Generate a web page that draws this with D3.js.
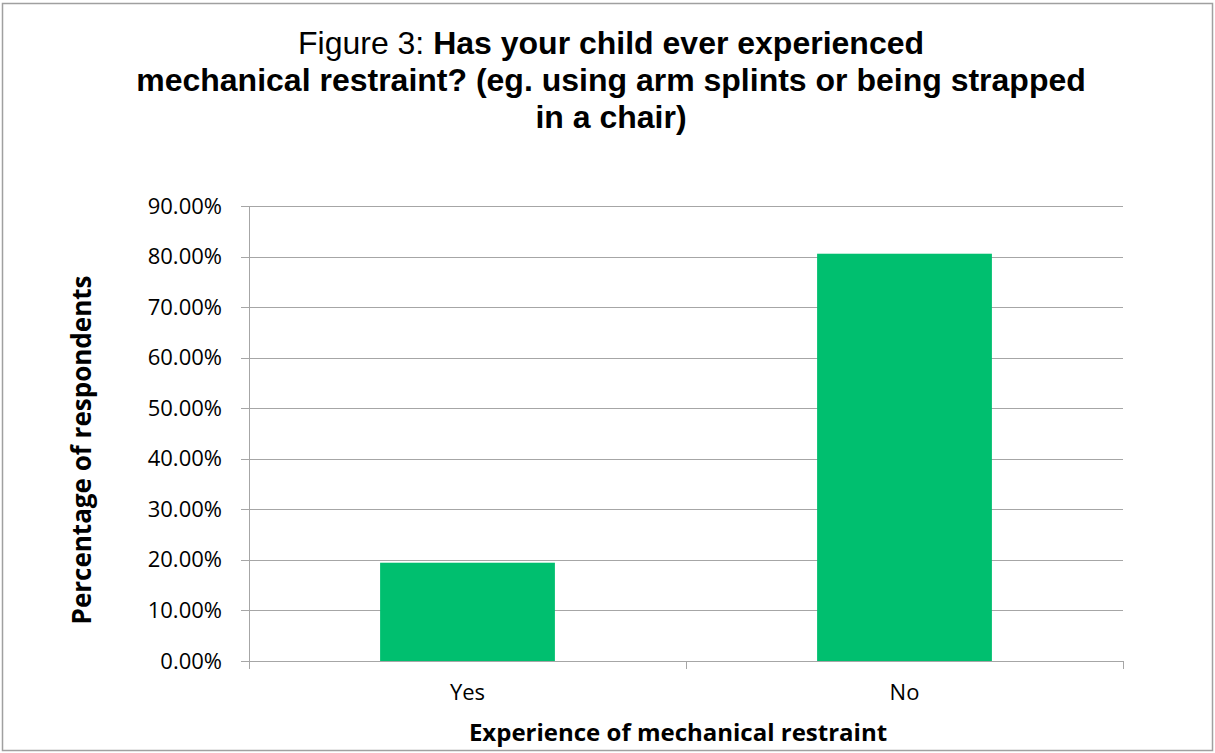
<!DOCTYPE html>
<html>
<head>
<meta charset="utf-8">
<script src="https://cdn.jsdelivr.net/npm/d3@7"></script>
<style>
  body { margin: 0; background: #fff; }
</style>
</head>
<body>
<script>
'use strict';

// chart data
const categories = ["Yes", "No"];
const percentValues = [0.1944, 0.8056];
const yTicks = [0, 0.1, 0.2, 0.3, 0.4, 0.5, 0.6, 0.7, 0.8, 0.9];

const titleLight = "Figure 3: ";
const titleLines = ["Has your child ever experienced",
  "mechanical restraint? (eg. using arm splints or being strapped",
  "in a chair)"];
const xTitle = "Experience of mechanical restraint";
const yTitle = "Percentage of respondents";

(function() {
  const width = 1215, height = 753;
  const plot = { left: 249, right: 1123, top: 206, bottom: 661 };
  const labelFont = "'Open Sans', 'Noto Sans', sans-serif";
  const gridColor = "#a6a6a6";

  let svg = d3.select('body').append('svg')
    .attr('width', width)
    .attr('height', height);

  // outer chart border
  svg.append('rect')
    .attr('x', 2.5).attr('y', 3.5)
    .attr('width', width - 5).attr('height', height - 6)
    .attr('fill', '#fff')
    .attr('stroke', '#a0a0a0')
    .attr('stroke-width', 1.5);

  // title
  let title = svg.append('text')
    .attr('text-anchor', 'middle')
    .style('font-family', "Arial, 'Liberation Sans', sans-serif")
    .style('font-size', '32px')
    .attr('fill', '#000');
  titleLines.forEach((line, i) => {
    let t = title.append('tspan')
      .attr('x', 611)
      .attr('y', 54 + i * 37);
    if (i === 0) {
      t.append('tspan').attr('font-weight', 'normal').text(titleLight);
    }
    t.append('tspan').attr('font-weight', 'bold').text(line);
  });

  // scales
  let xScale = d3.scaleBand()
    .domain(categories)
    .range([plot.left, plot.right])
    .paddingInner(0.6)
    .paddingOuter(0.3);

  let yScale = d3.scaleLinear()
    .domain([0, 0.9])
    .range([plot.bottom, plot.top]);

  // gridlines
  svg.append('g')
    .selectAll('line')
    .data(yTicks)
    .enter()
    .append('line')
      .attr('x1', plot.left - 8)
      .attr('x2', plot.right)
      .attr('y1', d => Math.round(yScale(d)) + 0.5)
      .attr('y2', d => Math.round(yScale(d)) + 0.5)
      .attr('stroke', gridColor)
      .attr('stroke-width', 1);

  // y axis
  let yAxis = d3.axisLeft(yScale)
    .tickValues(yTicks)
    .tickSize(0)
    .tickPadding(27)
    .tickFormat(d3.format('.2%'));
  let yg = svg.append('g')
    .attr('transform', 'translate(' + plot.left + ',0)')
    .call(yAxis);
  yg.select('.domain').remove();
  yg.selectAll('text')
    .style('font-family', labelFont)
    .style('font-size', '22px')
    .attr('fill', '#000');
  svg.append('line')
    .attr('x1', plot.left + 0.5).attr('x2', plot.left + 0.5)
    .attr('y1', plot.top).attr('y2', plot.bottom + 8)
    .attr('stroke', gridColor);

  // bars
  svg.selectAll('.bar')
    .data(categories)
    .enter()
    .append('rect')
      .attr('class', 'bar')
      .attr('x', d => xScale(d))
      .attr('width', xScale.bandwidth())
      .attr('y', (d, i) => yScale(percentValues[i]))
      .attr('height', (d, i) => plot.bottom - yScale(percentValues[i]))
      .attr('fill', '#00bf6f');

  // x axis
  let xAxis = d3.axisBottom(xScale)
    .tickSize(0);
  let xg = svg.append('g')
    .attr('transform', 'translate(0,' + plot.bottom + ')')
    .call(xAxis);
  xg.select('.domain').remove();
  xg.selectAll('text')
    .attr('dy', null)
    .attr('y', 39)
    .style('font-family', labelFont)
    .style('font-size', '22px')
    .attr('fill', '#000');

  // category divider ticks
  let step = (plot.right - plot.left) / categories.length;
  svg.append('g')
    .selectAll('line')
    .data(d3.range(categories.length + 1))
    .enter()
    .append('line')
      .attr('x1', d => Math.round(plot.left + d * step) + 0.5)
      .attr('x2', d => Math.round(plot.left + d * step) + 0.5)
      .attr('y1', plot.bottom)
      .attr('y2', plot.bottom + 8)
      .attr('stroke', gridColor);

  // axis titles
  svg.append('text')
    .attr('x', 678)
    .attr('y', 741)
    .attr('text-anchor', 'middle')
    .style('font-family', labelFont)
    .style('font-size', '24px')
    .style('font-weight', 'bold')
    .text(xTitle);

  svg.append('text')
    .attr('transform', 'translate(91,450)rotate(-90)')
    .attr('text-anchor', 'middle')
    .style('font-family', labelFont)
    .style('font-size', '26px')
    .style('font-weight', 'bold')
    .text(yTitle);
})();
</script>
</body>
</html>
